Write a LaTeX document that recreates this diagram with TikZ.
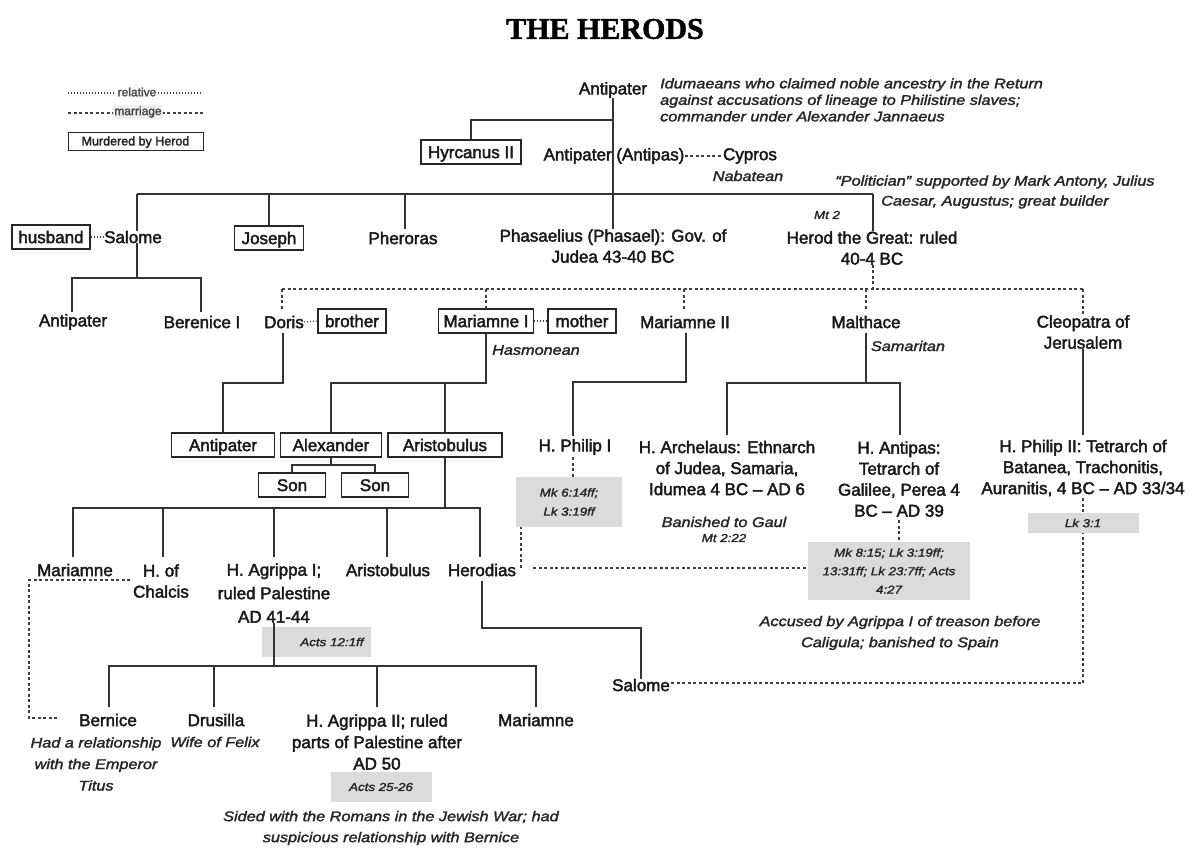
\documentclass[tikz,border=0pt]{standalone}
\usepackage{fontspec}
\setmainfont[FakeBold=2.4]{Liberation Sans}
\newfontfamily\notefont[FakeStretch=1.16,FakeBold=2]{Liberation Sans}
\newfontfamily\titlefont[FakeBold=1.5]{Liberation Serif}
\begin{document}
\begin{tikzpicture}[x=1pt,y=-1pt,
  tree/.style={line width=1.4pt, draw=black!80},
  marr/.style={line width=1.1pt, draw=black!75, dash pattern=on 3pt off 2.5pt},
  rel/.style={line width=1.1pt, draw=black!75, dash pattern=on 1.2pt off 1.8pt},
  lbl/.style={font={\fontsize{17}{21}\selectfont}, inner sep=0pt, align=center, text=black!90},
  note/.style={font={\notefont\itshape\fontsize{14}{16.5}\selectfont}, inner sep=0pt, align=center, text=black!85},
  refn/.style={font={\notefont\itshape\fontsize{11.5}{19}\selectfont}, inner sep=0pt, align=center, text=black!85},
  murder/.style={font={\fontsize{17}{21}\selectfont}, text=black!90, draw=black!85, line width=1.2pt, inner xsep=5pt, inner ysep=0pt, minimum height=24pt, text height=14pt, text depth=1.8pt, fill=white},
  refbox/.style={refn, fill=black!14, draw=none},
  legtxt/.style={font={\fontsize{12}{14}\selectfont}, inner sep=1.5pt, text=black!70}
]
\fill[white] (0,0) rectangle (1192,847);
\useasboundingbox (0,0) rectangle (1192,847);

% title
\node[inner sep=0pt] (title) at (605,29) {\titlefont\bfseries\fontsize{30}{30}\selectfont THE HERODS};

% legend
\draw[rel] (68,93) -- (203,93);
\node[legtxt, fill=white] (legrel) at (137,92) {relative};
\draw[marr] (68,113) -- (203,113);
\node[legtxt, fill=black!6] (legmar) at (138,112) {marriage};
\node[draw=black!85, line width=1pt, minimum width=135pt, minimum height=18pt, inner sep=0pt, font={\fontsize{12.5}{14}\selectfont}, text=black!85, text height=10pt, text depth=1.2pt] (legmur) at (135.5,141) {Murdered by Herod};

% top generation
\node[lbl] (ant0) at (613,90) {Antipater};
\node[note, align=left, anchor=north west] (idum) at (660,78) {Idumaeans who claimed noble ancestry in the Return\\against accusations of lineage to Philistine slaves;\\commander under Alexander Jannaeus};
\node[murder, minimum width=100pt] (hyr) at (471,152) {Hyrcanus II};
\node[lbl] (antipas) at (614,156) {Antipater (Antipas)};
\node[lbl] (cypros) at (750,156) {Cypros};
\node[note] (nab) at (748,176) {Nabatean};

% row 1
\node[murder, minimum width=78pt] (husband) at (51,237) {husband};
\node[lbl] (salome) at (133,237) {Salome};
\node[murder, minimum width=69pt] (joseph) at (269,238) {Joseph};
\node[lbl] (pher) at (403,238) {Pheroras};
\node[lbl] (phas) at (613,246) {Phasaelius (Phasael): Gov. of\\Judea 43-40 BC};
\node[lbl] (herod) at (872,248) {Herod the Great: ruled\\40-4 BC};
\node[refn] (mt2) at (827,215) {Mt 2};
\node[note, font={\notefont\itshape\fontsize{14}{20}\selectfont}] (polit) at (995,192) {“Politician” supported by Mark Antony, Julius\\Caesar, Augustus; great builder};

% row 2
\node[lbl] (ant1) at (73,322) {Antipater};
\node[lbl] (ber) at (202,322) {Berenice I};
\node[lbl] (doris) at (284,322) {Doris};
\node[murder, minimum width=68pt] (brother) at (352,321) {brother};
\node[murder, minimum width=95pt] (mar1) at (486,321) {Mariamne I};
\node[murder, minimum width=68pt] (mother) at (582,321) {mother};
\node[note] (hasm) at (536,350) {Hasmonean};
\node[lbl] (mar2) at (685,322) {Mariamne II};
\node[lbl] (malth) at (866,322) {Malthace};
\node[note] (samar) at (908,346) {Samaritan};
\node[lbl] (cleo) at (1083,332) {Cleopatra of\\Jerusalem};

% row 3
\node[murder, minimum width=103pt] (ant2) at (223,445) {Antipater};
\node[murder, minimum width=101pt] (alex) at (331,445) {Alexander};
\node[murder, minimum width=114pt] (aristo) at (445,445) {Aristobulus};
\node[murder, minimum width=67pt] (son1) at (292,485) {Son};
\node[murder, minimum width=67pt] (son2) at (375,485) {Son};
\node[lbl] (phil1) at (575,447) {H. Philip I};
\node[lbl] (arch) at (727,468) {H. Archelaus: Ethnarch\\of Judea, Samaria,\\Idumea 4 BC – AD 6};
\node[lbl] (antipas2) at (899,479) {H. Antipas:\\Tetrarch of\\Galilee, Perea 4\\BC – AD 39};
\node[lbl] (phil2) at (1083,468) {H. Philip II: Tetrarch of\\Batanea, Trachonitis,\\Auranitis, 4 BC – AD 33/34};
\node[note] (gaul) at (724,522) {Banished to Gaul};
\node[refn] (mt222) at (724,538) {Mt 2:22};
\node[note, font={\notefont\itshape\fontsize{14}{21}\selectfont}] (accused) at (900,633) {Accused by Agrippa I of treason before\\Caligula; banished to Spain};

% row 4
\node[lbl] (mar3) at (75,570) {Mariamne};
\node[lbl] (chalcis) at (161,581) {H. of\\Chalcis};
\node[lbl, font={\fontsize{17}{23.5}\selectfont}] (agr1) at (274,593) {H. Agrippa I;\\ruled Palestine\\AD 41-44};
\node[lbl] (aris2) at (388,570) {Aristobulus};
\node[lbl] (herodias) at (482,570) {Herodias};
\node[lbl] (sal2) at (641,685) {Salome};

% row 5
\node[lbl] (bern) at (108,720) {Bernice};
\node[note, font={\notefont\itshape\fontsize{14}{21.5}\selectfont}] (titus) at (96,764) {Had a relationship\\with the Emperor\\Titus};
\node[lbl] (drus) at (216,720) {Drusilla};
\node[note] (felix) at (215,742) {Wife of Felix};
\node[lbl, font={\fontsize{17}{21.5}\selectfont}] (agr2) at (377,742) {H. Agrippa II; ruled\\parts of Palestine after\\AD 50};
\node[lbl] (mar4) at (536,720) {Mariamne};
\node[note, font={\notefont\itshape\fontsize{14}{21}\selectfont}] (sided) at (391,828) {Sided with the Romans in the Jewish War; had\\suspicious relationship with Bernice};

% ---------- connectors ----------
% Antipater line
\coordinate (j1) at (613,120);
\draw[tree] (ant0.south) -- (phas.north);
\draw[tree] (hyr.north) |- (j1);
\draw[marr] (antipas.east) -- (cypros.west);

% bus of Antipas' children
\coordinate (b1L) at (137,194);
\coordinate (b1R) at (873,194);
\draw[tree] (b1L) -- (b1R);
\draw[tree] (b1L) -- (b1L |- salome.north);
\draw[tree] (joseph.north |- b1L) -- (joseph.north);
\draw[tree] (405,194) -- (405,229);
\draw[tree] (b1R) -- (b1R |- herod.north);
\draw[rel] (husband.east) -- (salome.west);

% Salome's children
\coordinate (sb) at (137,278);
\draw[tree] (sb |- salome.south) -- (sb);
\draw[tree] (72,312) |- (sb) -| (201,312);

% Herod's marriages
\coordinate (hm) at (873,289);
\draw[marr] (herod.south -| hm) -- (hm);
\draw[marr] (282,289) -- (1083,289);
\draw[marr] (282,289) -- (282,311);
\draw[marr] (486,289) -- (mar1.north);
\draw[marr] (684,289) -- (684,311);
\draw[marr] (866,289) -- (866,311);
\draw[marr] (1083,289) -- (cleo.north);
\draw[rel] (doris.east) -- (brother.west);
\draw[rel] (mar1.east) -- (mother.west);

% Doris -> Antipater
\coordinate (d1) at (283,383);
\draw[tree] (283,333) -- (d1) -| (ant2.north);
% Mariamne I -> Alexander, Aristobulus
\draw[tree] (mar1.south) -- (mar1.south |- d1) -| (alex.north);
\draw[tree] (aristo.north) -- (aristo.north |- d1);
% Alexander -> sons
\coordinate (a1) at (331,465);
\draw[tree] (alex.south) -- (a1);
\draw[tree] (son1.north) |- (a1) -| (son2.north);
% Aristobulus -> children
\coordinate (cb) at (445,508);
\draw[tree] (aristo.south) -- (cb);
\draw[tree] (73,557) |- (cb) -| (480,557);
\draw[tree] (163,508) -- (163,557);
\draw[tree] (274,508) -- (274,557);
\draw[tree] (387,508) -- (387,557);

% Mariamne II -> Philip I
\coordinate (m2) at (686,382);
\draw[tree] (686,333) -- (m2) -| (573,436);
% Malthace -> Archelaus, Antipas
\coordinate (m3) at (866,383);
\draw[tree] (866,333) -- (m3);
\draw[tree] (727,435) |- (m3) -| (900,435);
% Cleopatra -> Philip II
\draw[tree] (cleo.south -| 1083,0) -- (1083,435);

% Philip I & Herodias marriages
\coordinate (p1c) at (521,490);
\draw[marr] (573,457) |- (p1c) -- (521,568);
\draw[marr] (533,568) -- (808,568);
\draw[marr] (899,520) -- (899,542);
% Philip II & Salome
\draw[marr] (1083,498) -- (1083,683) -- (sal2.east |- 0,683);
% Herodias -> Salome
\coordinate (h2) at (641,628);
\draw[tree] (482,581) |- (h2) -- (sal2.north);

% Mariamne & Bernice
\coordinate (mm1) at (130,580);
\coordinate (mm3) at (29,718);
\draw[marr] (mm1) -| (mm3) -- (57,718);

% reference boxes
\node[refbox, minimum width=106pt, minimum height=50pt] (p1ref) at (569,502) {Mk 6:14ff;\\Lk 3:19ff};
\node[refbox, minimum width=162pt, minimum height=58pt, font={\notefont\itshape\fontsize{11.5}{18.5}\selectfont}] (antref) at (889,571) {Mk 8:15; Lk 3:19ff;\\13:31ff; Lk 23:7ff; Acts\\4:27};
\node[refbox, minimum width=111pt, minimum height=20pt] (lkref) at (1083,523) {Lk 3:1};
\node[refbox, minimum width=109pt, minimum height=30pt, text width=95pt, align=right] (actsref) at (316,642) {Acts 12:1ff};
\node[refbox, minimum width=101pt, minimum height=30pt] (acts2ref) at (381,787) {Acts 25-26};

% Agrippa I -> children (over the box)
\coordinate (ab) at (274,666);
\draw[tree] (agr1.south) -- (ab);
\draw[tree] (109,707) |- (ab) -| (536,707);
\draw[tree] (214,666) -- (214,707);
\draw[tree] (377,666) -- (377,707);
\end{tikzpicture}
\end{document}
